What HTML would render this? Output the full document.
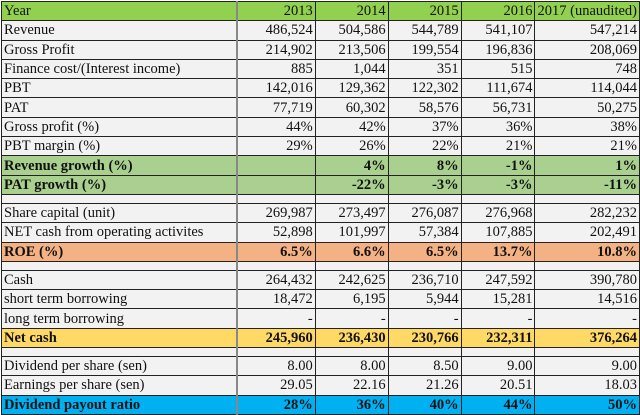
<!DOCTYPE html>
<html><head><meta charset="utf-8"><style>
body{margin:0;width:640px;height:415px;background:#fff;overflow:hidden}
table{position:absolute;left:1px;top:1px;border-collapse:collapse;table-layout:fixed;font-family:"Liberation Serif",serif;font-size:14.5px;color:#111}
td{border:1px solid #222;padding:0 2px;height:18.3px;line-height:18px;background:#f2f2f2;text-align:right;white-space:nowrap;overflow:hidden}
td:first-child{text-align:left;border-right:2px solid #888}
tr.b td{height:8px;line-height:8px;background:#f2f2f2}
tr.h td{background:#92d050}
tr.g td{background:#a9d08e;font-weight:bold}
tr.o td{background:#f4b183;font-weight:bold}
tr.y td{background:#ffd966;font-weight:bold}
tr.c td{background:#00b0f0;font-weight:bold}
</style></head><body>
<table>
<colgroup><col style="width:236px"><col style="width:78px"><col style="width:73px"><col style="width:73px"><col style="width:74px"><col style="width:101px"></colgroup>
<tr class="h"><td>Year</td><td>2013</td><td>2014</td><td>2015</td><td>2016</td><td>2017 (unaudited)</td></tr>
<tr><td>Revenue</td><td>486,524</td><td>504,586</td><td>544,789</td><td>541,107</td><td>547,214</td></tr>
<tr><td>Gross Profit</td><td>214,902</td><td>213,506</td><td>199,554</td><td>196,836</td><td>208,069</td></tr>
<tr><td>Finance cost/(Interest income)</td><td>885</td><td>1,044</td><td>351</td><td>515</td><td>748</td></tr>
<tr><td>PBT</td><td>142,016</td><td>129,362</td><td>122,302</td><td>111,674</td><td>114,044</td></tr>
<tr><td>PAT</td><td>77,719</td><td>60,302</td><td>58,576</td><td>56,731</td><td>50,275</td></tr>
<tr><td>Gross profit (%)</td><td>44%</td><td>42%</td><td>37%</td><td>36%</td><td>38%</td></tr>
<tr><td>PBT margin (%)</td><td>29%</td><td>26%</td><td>22%</td><td>21%</td><td>21%</td></tr>
<tr class="g"><td>Revenue growth (%)</td><td></td><td>4%</td><td>8%</td><td>-1%</td><td>1%</td></tr>
<tr class="g"><td>PAT growth (%)</td><td></td><td>-22%</td><td>-3%</td><td>-3%</td><td>-11%</td></tr>
<tr class="b"><td></td><td></td><td></td><td></td><td></td><td></td></tr>
<tr><td>Share capital (unit)</td><td>269,987</td><td>273,497</td><td>276,087</td><td>276,968</td><td>282,232</td></tr>
<tr><td>NET cash from operating activites</td><td>52,898</td><td>101,997</td><td>57,384</td><td>107,885</td><td>202,491</td></tr>
<tr class="o"><td>ROE (%)</td><td>6.5%</td><td>6.6%</td><td>6.5%</td><td>13.7%</td><td>10.8%</td></tr>
<tr class="b"><td></td><td></td><td></td><td></td><td></td><td></td></tr>
<tr><td>Cash</td><td>264,432</td><td>242,625</td><td>236,710</td><td>247,592</td><td>390,780</td></tr>
<tr><td>short term borrowing</td><td>18,472</td><td>6,195</td><td>5,944</td><td>15,281</td><td>14,516</td></tr>
<tr><td>long term borrowing</td><td>-</td><td>-</td><td>-</td><td>-</td><td>-</td></tr>
<tr class="y"><td>Net cash</td><td>245,960</td><td>236,430</td><td>230,766</td><td>232,311</td><td>376,264</td></tr>
<tr class="b"><td></td><td></td><td></td><td></td><td></td><td></td></tr>
<tr><td>Dividend per share (sen)</td><td>8.00</td><td>8.00</td><td>8.50</td><td>9.00</td><td>9.00</td></tr>
<tr><td>Earnings per share (sen)</td><td>29.05</td><td>22.16</td><td>21.26</td><td>20.51</td><td>18.03</td></tr>
<tr class="c"><td>Dividend payout ratio</td><td>28%</td><td>36%</td><td>40%</td><td>44%</td><td>50%</td></tr>
</table>
</body></html>
